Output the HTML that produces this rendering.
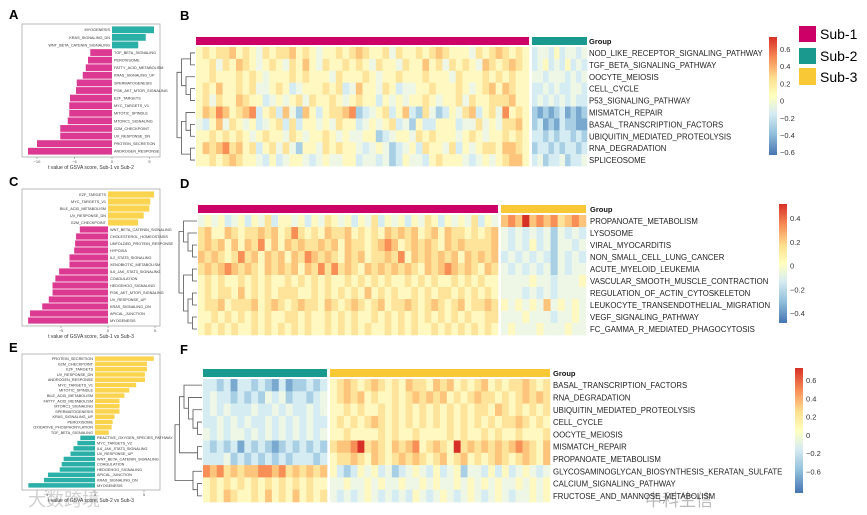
<!DOCTYPE html>
<html><head><meta charset="utf-8"><style>
html,body{margin:0;padding:0;background:#fff;}
svg{display:block;font-family:"Liberation Sans",Arial,sans-serif;}
</style></head><body>
<svg id="fig" width="867" height="515" viewBox="0 0 867 515">
<defs>
<linearGradient id="cb" x1="0" y1="0" x2="0" y2="1">
<stop offset="0" stop-color="#d73027"/><stop offset="0.18" stop-color="#f88f57"/><stop offset="0.35" stop-color="#fee090"/><stop offset="0.5" stop-color="#ffffbf"/><stop offset="0.65" stop-color="#d6ecf3"/><stop offset="0.82" stop-color="#91bfdb"/><stop offset="1" stop-color="#4575b4"/>
</linearGradient>
</defs>
<g font-weight="bold" font-size="13" fill="#000">
<text x="9" y="19">A</text>
<text x="180" y="20">B</text>
<text x="9" y="186">C</text>
<text x="180" y="188">D</text>
<text x="9" y="352">E</text>
<text x="180" y="354">F</text>
</g>
<g id="legend">
<rect x="799" y="26" width="17" height="16" fill="#cc0066"/>
<text x="820" y="39" font-size="14">Sub-1</text>
<rect x="799" y="48" width="17" height="16" fill="#1a9a8e"/>
<text x="820" y="61" font-size="14">Sub-2</text>
<rect x="799" y="68" width="17" height="17" fill="#f8c836"/>
<text x="820" y="82" font-size="14">Sub-3</text>
</g>
<text x="28" y="506" font-size="18" fill="#999" opacity="0.45">大数跨境</text>
<text x="645" y="506" font-size="17" fill="#777" opacity="0.5" font-family="'Noto Sans CJK SC',sans-serif">中科生信</text>
</svg>
<script>
// ---------- bar chart data ----------
const aLabels=["MYOGENESIS","KRAS_SIGNALING_DN","WNT_BETA_CATENIN_SIGNALING","TGF_BETA_SIGNALING","PEROXISOME","FATTY_ACID_METABOLISM","KRAS_SIGNALING_UP","SPERMATOGENESIS","PI3K_AKT_MTOR_SIGNALING","E2F_TARGETS","MYC_TARGETS_V1","MITOTIC_SPINDLE","MTORC1_SIGNALING","G2M_CHECKPOINT","UV_RESPONSE_DN","PROTEIN_SECRETION","ANDROGEN_RESPONSE"];
const aValues=[5.6,4.5,3.5,-2.9,-3.2,-3.5,-3.9,-4.7,-4.8,-5.6,-5.7,-5.7,-5.9,-6.9,-6.9,-10,-11.2];
const aTicks=[-10,-5,0,5];
const cLabels=["E2F_TARGETS","MYC_TARGETS_V1","BILE_ACID_METABOLISM","UV_RESPONSE_DN","G2M_CHECKPOINT","WNT_BETA_CATENIN_SIGNALING","CHOLESTEROL_HOMEOSTASIS","UNFOLDED_PROTEIN_RESPONSE","HYPOXIA","IL2_STAT5_SIGNALING","XENOBIOTIC_METABOLISM","IL6_JAK_STAT3_SIGNALING","COAGULATION","HEDGEHOG_SIGNALING","PI3K_AKT_MTOR_SIGNALING","UV_RESPONSE_UP","KRAS_SIGNALING_DN","APICAL_JUNCTION","MYOGENESIS"];
const cValues=[4.9,4.5,4.4,3.8,3.2,-3.0,-3.4,-3.5,-3.6,-4.1,-4.1,-5.2,-5.6,-5.9,-5.9,-6.3,-7.0,-8.3,-8.5];
const cTicks=[-5,0,5];
const eLabels=["PROTEIN_SECRETION","G2M_CHECKPOINT","E2F_TARGETS","UV_RESPONSE_DN","ANDROGEN_RESPONSE","MYC_TARGETS_V1","MITOTIC_SPINDLE","BILE_ACID_METABOLISM","FATTY_ACID_METABOLISM","MTORC1_SIGNALING","SPERMATOGENESIS","KRAS_SIGNALING_UP","PEROXISOME","OXIDATIVE_PHOSPHORYLATION","TGF_BETA_SIGNALING","REACTIVE_OXYGEN_SPECIES_PATHWAY","MYC_TARGETS_V2","IL6_JAK_STAT3_SIGNALING","UV_RESPONSE_UP","WNT_BETA_CATENIN_SIGNALING","COAGULATION","HEDGEHOG_SIGNALING","APICAL_JUNCTION","KRAS_SIGNALING_DN","MYOGENESIS"];
const eValues=[6.0,5.3,5.3,5.1,5.1,4.2,3.5,3.0,2.5,2.5,2.5,2.0,1.8,1.7,1.4,-1.5,-1.8,-2.2,-2.5,-3.2,-3.4,-3.6,-4.8,-5.2,-6.8];
const eTicks=[-5,0,5];

// ---------- heatmap data (digit 0=low .. 9=high) ----------
const bRows=["NOD_LIKE_RECEPTOR_SIGNALING_PATHWAY","TGF_BETA_SIGNALING_PATHWAY","OOCYTE_MEIOSIS","CELL_CYCLE","P53_SIGNALING_PATHWAY","MISMATCH_REPAIR","BASAL_TRANSCRIPTION_FACTORS","UBIQUITIN_MEDIATED_PROTEOLYSIS","RNA_DEGRADATION","SPLICEOSOME"];
const bSub1=["56566756546566756545565676556465565676555465676565","55646576545654657546556565465546557564656547656765","55655565654555656555465556545565556555465556565655","56575565644565345556563475546534455655565456757655","56465576553454564655654565535454556545564655666755","57687567835637427535667823456357326423546735648565","43574654534563635545465534545634253355534464546675","55656565456554654556545445523455465655545654556565","57678675635646425546565543454234536554635456657765","55656765543534554345445534434235443565554345456775"];
const bSub2=["3443534434","3453435343","4434443434","3343433443","3434343433","2121231212","2312132211","3323233232","2332323323","3423342334"];
const bTicks=["0.6","0.4","0.2","0","\u22120.2","\u22120.4","\u22120.6"];
const dRows=["PROPANOATE_METABOLISM","LYSOSOME","VIRAL_MYOCARDITIS","NON_SMALL_CELL_LUNG_CANCER","ACUTE_MYELOID_LEUKEMIA","VASCULAR_SMOOTH_MUSCLE_CONTRACTION","REGULATION_OF_ACTIN_CYTOSKELETON","LEUKOCYTE_TRANSENDOTHELIAL_MIGRATION","VEGF_SIGNALING_PATHWAY","FC_GAMMA_R_MEDIATED_PHAGOCYTOSIS"];
const dSub1=["454534535463554535465453546354535465354546354","675576566767568656576675656576767567576656567","676757576857576766767576656787567676576766667","767656867576757687676576756676857676767576767","676787676576767576868676576767676576787676576","565655656565565656565565656565565656556565655","565665756565666556565656575656556565665656565","566756667567656766576567656756676567656756676","556565656565566565565656556565656565656565566","565656556565656565565656565565656556565656565"];
const dSub3=["787978786787","434343424343","434353424434","343434324343","434343424344","444454434445","444343434444","545454745454","444544434454","454445444544"];
const dTicks=["0.4","0.2","0","\u22120.2","\u22120.4"];
const fRows=["BASAL_TRANSCRIPTION_FACTORS","RNA_DEGRADATION","UBIQUITIN_MEDIATED_PROTEOLYSIS","CELL_CYCLE","OOCYTE_MEIOSIS","MISMATCH_REPAIR","PROPANOATE_METABOLISM","GLYCOSAMINOGLYCAN_BIOSYNTHESIS_KERATAN_SULFATE","CALCIUM_SIGNALING_PATHWAY","FRUCTOSE_AND_MANNOSE_METABOLISM"];
const fSub2=["332313323213122323","343323232434233234","343433343343433434","334343433434343433","434344343434343434","323231323212323232","333423232323233323","878676778878676767","565656565656565655","565765565756575656"];
const fSub3=["56765676565766576756567565667656","56767565565676767565676656567676","55656556565656565656566576565656","56565676565656565656565656676565","55655556565565555656556565565556","67789676576785676596767676787657","56676576567676567567565676567657","53235453423454353452443535345434","44544545445445454454545454454545","43434543434354345434543454344545"];
const fTicks=["0.6","0.4","0.2","0","\u22120.2","\u22120.6"];

const NS="http://www.w3.org/2000/svg";
const svg=document.getElementById('fig');
const PAL=["#4a78b6","#7aa9d0","#a9cfe4","#d6ecf3","#eef7e6","#fff8c0","#fee49a","#fdc47c","#f88f57","#d73027"];
function mk(tag,attrs,parent){const e=document.createElementNS(NS,tag);for(const k in attrs)e.setAttribute(k,attrs[k]);(parent||svg).appendChild(e);return e;}

function barChart(id,labels,values,ticks,box,zero,scale,posCol,negCol,title){
  const g=mk('g',{});
  
  
  const fr=mk('rect',{x:box.x0,y:box.y0,width:box.x1-box.x0,height:box.y1-box.y0,fill:'none',stroke:'#aaa','stroke-width':0.8},g);
  
  
  const xs=v=>zero+v*scale;
  const n=labels.length, rh=(box.y1-box.y0-4)/n;
  labels.forEach((lab,i)=>{
    const v=values[i], y=box.y0+2+i*rh;
    const x0=Math.min(xs(0),xs(v)), w=Math.abs(xs(v)-xs(0));
    const r=mk('rect',{x:x0,y:y+0.4,width:w,height:rh-0.8,fill:v>=0?posCol:negCol},g);
    
    
    const t=mk('text',{x:v>=0?xs(0)-2:xs(0)+2,y:y+rh/2+1.4,'font-size':3.8,fill:'#333','text-anchor':v>=0?'end':'start'},g);
    t.textContent=lab;
    
    
  });
  ticks.forEach(tv=>{
    mk('line',{x1:xs(tv),x2:xs(tv),y1:box.y1,y2:box.y1+2,stroke:'#888','stroke-width':0.6},g);
    const t=mk('text',{x:xs(tv),y:box.y1+6,'font-size':4,fill:'#555','text-anchor':'middle'},g);
    t.textContent=tv<0?'\u2212'+(-tv):String(tv);
    
    
  });
  const at=mk('text',{x:(box.x0+box.x1)/2,y:box.y1+12,'font-size':5,fill:'#333','text-anchor':'middle'},g);
  at.textContent=title;
  
  
}

barChart('panel-a',aLabels,aValues,aTicks,{x0:22,x1:160,y0:24,y1:157},112,7.5,'#2bb0a8','#dc3a92','t value of GSVA score, Sub-1 vs Sub-2');
barChart('panel-c',cLabels,cValues,cTicks,{x0:22,x1:160,y0:189,y1:326},108,9.4,'#fbd44f','#dc3a92','t value of GSVA score, Sub-1 vs Sub-3');
barChart('panel-e',eLabels,eValues,eTicks,{x0:22,x1:160,y0:354,y1:490},95,9.8,'#fbd44f','#2bb0a8','t value of GSVA score, Sub-2 vs Sub-3');

function dendro(g,tree,xr,ytop,rh,step){
  function rec(node){
    if(typeof node==='number') return {y:ytop+(node+0.5)*rh,x:xr,h:0};
    const a=rec(node[0]),b=rec(node[1]);
    const h=Math.max(a.h,b.h)+1, x=xr-h*step;
    mk('path',{d:`M${a.x},${a.y}H${x}V${b.y}H${b.x}`,fill:'none',stroke:'#555','stroke-width':0.8},g);
    return {y:(a.y+b.y)/2,x:x,h:h};
  }
  rec(tree);
}

function heatmap(id,rows,groups,top,rh,labelX,cb,tickLabels,tree){
  const g=mk('g',{});
  
  
  groups.forEach(gr=>{
    const gb=mk('rect',{x:gr.x0,y:top-10,width:gr.x1-gr.x0,height:8,fill:gr.color},g);
    
    
    gr.data.forEach((s,ri)=>{
      const cw=(gr.x1-gr.x0)/s.length;
      for(let c=0;c<s.length;c++){
        const r=mk('rect',{x:gr.x0+c*cw,y:top+ri*rh,width:cw+0.3,height:rh+0.3,fill:PAL[+s[c]]},g);
        
        
      }
    });
  });
  const gl=mk('text',{x:labelX,y:top-3,'font-size':7.5,'font-weight':'bold',fill:'#111'},g);
  gl.textContent='Group';
  
  
  rows.forEach((r,i)=>{
    const t=mk('text',{x:labelX,y:top+(i+0.5)*rh+3,'font-size':7.8,fill:'#222'},g);
    t.textContent=r;
    
    
  });
  const dg=mk('g',{},g);
  
  
  dendro(dg,tree,groups[0].x0-1,top,rh,4.5);
  const cbr=mk('rect',{x:cb.x,y:cb.y0,width:8,height:cb.y1-cb.y0,fill:'url(#cb)'},g);
  
  
  tickLabels.forEach((tl,i)=>{
    const t=mk('text',{x:cb.x+11,y:cb.t0+i*cb.dt+3,'font-size':7.5,fill:'#333'},g);
    t.textContent=tl;
    
    
  });
}

heatmap('panel-b',bRows,[{x0:196,x1:529,color:'#cc0066',data:bSub1},{x0:532,x1:587,color:'#1a9a8e',data:bSub2}],47,11.9,589,{x:769,y0:37,y1:155,t0:49,dt:17.2},bTicks,[[[0,1],[2,[3,4]]],[[5,[6,7]],[8,9]]]);
heatmap('panel-d',dRows,[{x0:198,x1:498,color:'#cc0066',data:dSub1},{x0:501,x1:586,color:'#f8c836',data:dSub3}],215,12,590,{x:779,y0:204,y1:323,t0:218,dt:23.8},dTicks,[[0,[1,[2,3]]],[[4,5],[[6,7],[8,9]]]]);
heatmap('panel-f',fRows,[{x0:203,x1:327,color:'#1a9a8e',data:fSub2},{x0:330,x1:550,color:'#f8c836',data:fSub3}],379,12.3,553,{x:795,y0:368,y1:493,t0:380,dt:18.3},fTicks,[[[0,[1,[2,[3,4]]]],[5,6]],[7,[8,9]]]);
</script>
</body></html>
